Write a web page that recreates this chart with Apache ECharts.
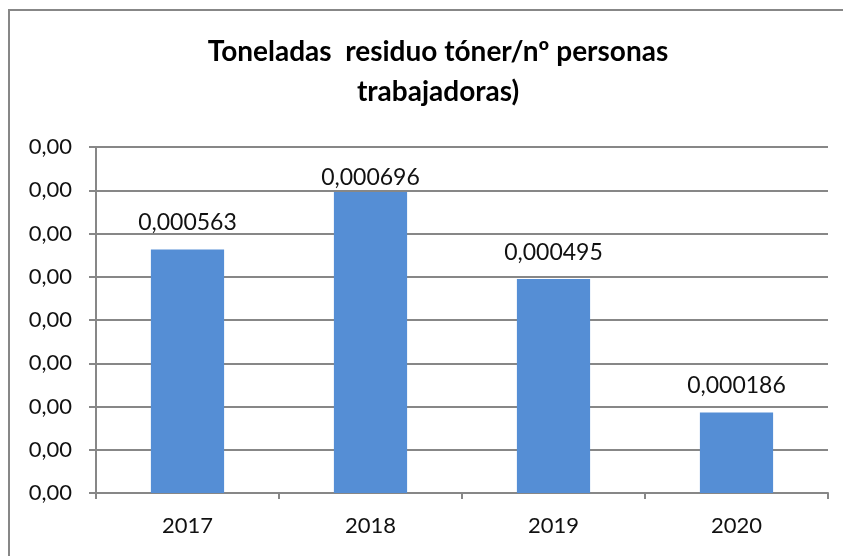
<!DOCTYPE html>
<html>
<head>
<meta charset="utf-8">
<script src="https://cdn.jsdelivr.net/npm/echarts@6/dist/echarts.min.js"></script>
<style>
  html, body { margin: 0; padding: 0; background: #fff; }
  #chart { width: 843px; height: 556px; }
</style>
</head>
<body>
<div id="chart"></div>
<script>
// datos del gráfico
var years = ["2017", "2018", "2019", "2020"];
var tonPerPerson = [0.000563, 0.000696, 0.000495, 0.000186];
var titleLines = ["Toneladas  residuo tóner/nº personas", "trabajadoras)"];

var gray = "#878787";
var font = "Lato, 'Liberation Sans', sans-serif";

// formato con coma decimal
function comma(v, d) {
    return v.toFixed(d).replace(".", ",");
}

// la etiqueta de la barra más alta queda pegada a la barra (como en Excel)
var barData = tonPerPerson.map(function (v, i) {
    if (i === 1) {
        return {value: v, label: {distance: 3}};
    }
    return v;
});

var chart = echarts.init(document.getElementById("chart"));

chart.setOption({
    animation: false,
    backgroundColor: "#fff",
    title: {
        text: titleLines.join("\n"),
        left: 433,
        textAlign: "center",
        top: 27,
        textStyle: {
            fontFamily: font,
            fontSize: 28,
            fontWeight: "bold",
            color: "#000",
            lineHeight: 40
        }
    },
    graphic: [{
        type: "rect",
        shape: {x: 9, y: 10, width: 900, height: 600},
        style: {fill: "none", stroke: gray, lineWidth: 2},
        silent: true
    }],
    grid: {left: 96, right: 15, top: 147, bottom: 63},
    xAxis: {
        type: "category",
        data: years,
        axisLine: {lineStyle: {color: gray, width: 2}},
        axisTick: {show: true, length: 6, lineStyle: {color: gray, width: 2}},
        axisLabel: {
            fontFamily: font,
            fontSize: 22,
            color: "#111",
            margin: 22
        }
    },
    yAxis: {
        type: "value",
        min: 0,
        max: 0.0008,
        interval: 0.0001,
        axisLine: {show: true, lineStyle: {color: gray, width: 2}},
        axisTick: {show: true, length: 7, lineStyle: {color: gray, width: 2}},
        splitLine: {lineStyle: {color: gray, width: 2}},
        axisLabel: {
            fontFamily: font,
            fontSize: 22,
            color: "#111",
            margin: 24,
            formatter: function (v) { return comma(v, 2); }
        }
    },
    series: [{
        type: "bar",
        data: barData,
        barWidth: "40%",
        itemStyle: {color: "#558ed5"},
        label: {
            show: true,
            position: "top",
            distance: 15,
            fontFamily: font,
            fontSize: 23,
            color: "#111",
            formatter: function (p) { return comma(p.value, 6); }
        }
    }]
});
</script>
</body>
</html>
